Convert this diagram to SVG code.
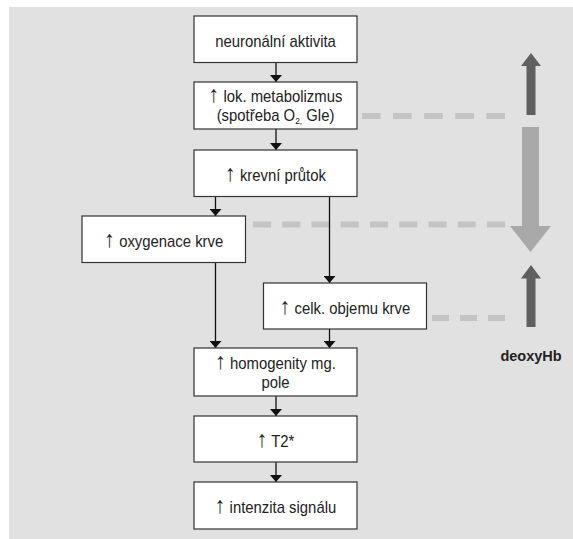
<svg xmlns="http://www.w3.org/2000/svg" width="573" height="539" viewBox="0 0 573 539">
<defs>
<style>
.bg{fill:#e1e1e1}
.box{fill:#ffffff;stroke:#333333;stroke-width:1.2}
.t{font-family:"Liberation Sans",Arial,sans-serif;font-size:16px;fill:#222222;text-anchor:middle}
.ar{font-size:23px}
.sub{font-size:9px}
.conn{stroke:#111111;stroke-width:1.3;fill:none;marker-end:url(#ah)}
.dash{stroke:#c4c4c4;stroke-width:6;fill:none}
.dark{fill:#5f5f5f}
.light{fill:#a9a9a9}
.lbl{font-family:"Liberation Sans",Arial,sans-serif;font-size:14.5px;font-weight:bold;fill:#222222;text-anchor:middle}
</style>
<marker id="ah" viewBox="0 0 7 12" refX="7" refY="6" markerWidth="7" markerHeight="12" markerUnits="userSpaceOnUse" orient="auto">
<path d="M0,0 L7,6 L0,12 z" fill="#111111"/>
</marker>
</defs>
<rect class="bg" x="9" y="7" width="564" height="532"/>

<g id="side">
<line class="dash" x1="362" y1="116" x2="505" y2="116" stroke-dasharray="18.6 12.5"/>
<line class="dash" x1="253" y1="224.5" x2="505" y2="224.5" stroke-dasharray="18 11.25"/>
<line class="dash" x1="432" y1="318" x2="505" y2="318" stroke-dasharray="17 11"/>
<polygon class="dark" points="531,53 541,66 535.5,66 535.5,115 526.5,115 526.5,66 521,66"/>
<polygon class="light" points="522,127 539,127 539,226 551,226 530.5,252 510,226 522,226"/>
<polygon class="dark" points="531,265 541,278.5 535.5,278.5 535.5,327 526.5,327 526.5,278.5 521,278.5"/>
<text class="lbl" x="531" y="360.7">deoxyHb</text>
</g>

<g id="connectors">
<line class="conn" x1="276" y1="62.5" x2="276" y2="82"/>
<line class="conn" x1="276" y1="129" x2="276" y2="150"/>
<line class="conn" x1="215.5" y1="196.5" x2="215.5" y2="216"/>
<line class="conn" x1="329.5" y1="196.5" x2="329.5" y2="283"/>
<line class="conn" x1="215.5" y1="262.5" x2="215.5" y2="348"/>
<line class="conn" x1="329.5" y1="329" x2="329.5" y2="348"/>
<line class="conn" x1="276" y1="396" x2="276" y2="416"/>
<line class="conn" x1="276" y1="462" x2="276" y2="482"/>
</g>

<g id="n1">
<rect class="box" x="194" y="16" width="163" height="46.5"/>
<text class="t" transform="translate(275.5,46.7) scale(0.93,1)">neuronální aktivita</text>
</g>
<g id="n2">
<rect class="box" x="194" y="82" width="163" height="47"/>
<text class="t" transform="translate(275.5,101.7) scale(0.93,1)"><tspan x="0" y="0"><tspan class="ar">↑</tspan> lok. metabolizmus</tspan><tspan x="0" y="19">(spotřeba O<tspan class="sub" dy="3">2,</tspan><tspan dy="-3"> Gle)</tspan></tspan></text>
</g>
<g id="n3">
<rect class="box" x="194" y="150" width="163" height="46.5"/>
<text class="t" transform="translate(275.5,180.7) scale(0.93,1)"><tspan class="ar">↑</tspan> krevní průtok</text>
</g>
<g id="n4">
<rect class="box" x="82" y="216" width="163.5" height="46.5"/>
<text class="t" transform="translate(163.8,246.7) scale(0.93,1)"><tspan class="ar">↑</tspan> oxygenace krve</text>
</g>
<g id="n5">
<rect class="box" x="263.5" y="283" width="163" height="46"/>
<text class="t" transform="translate(345,313.7) scale(0.93,1)"><tspan class="ar">↑</tspan> celk. objemu krve</text>
</g>
<g id="n6">
<rect class="box" x="194" y="348" width="163" height="48"/>
<text class="t" transform="translate(275.5,368.5) scale(0.93,1)"><tspan x="0" y="0"><tspan class="ar">↑</tspan> homogenity mg.</tspan><tspan x="0" y="19.5">pole</tspan></text>
</g>
<g id="n7">
<rect class="box" x="194" y="416" width="163" height="46"/>
<text class="t" transform="translate(275.5,446.7) scale(0.93,1)"><tspan class="ar">↑</tspan> T2*</text>
</g>
<g id="n8">
<rect class="box" x="194" y="482" width="163" height="47"/>
<text class="t" transform="translate(275.5,513) scale(0.93,1)"><tspan class="ar">↑</tspan> intenzita signálu</text>
</g>
</svg>
